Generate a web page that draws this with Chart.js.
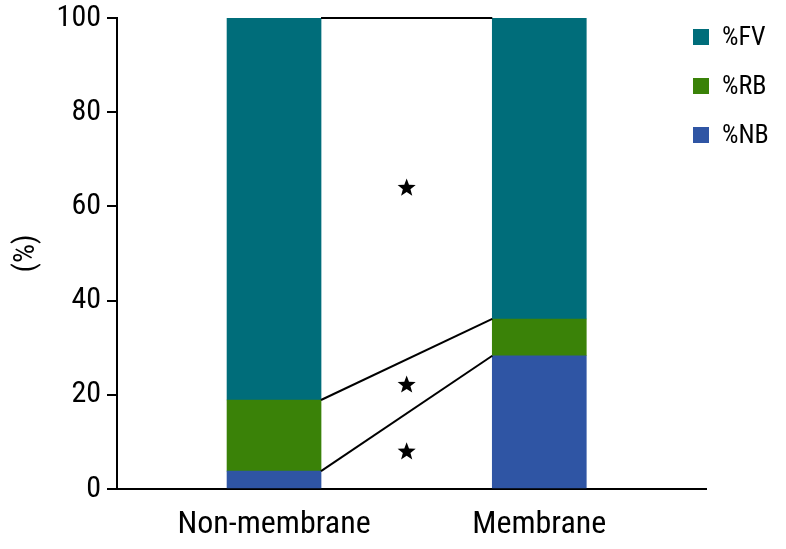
<!DOCTYPE html>
<html>
<head>
<meta charset="utf-8">
<script src="https://cdn.jsdelivr.net/npm/chart.js@4/dist/chart.umd.min.js"></script>
<style>
html,body{margin:0;padding:0;background:#fff;}
#wrap{width:786px;height:549px;position:relative;}
</style>
</head>
<body>
<div id="wrap"><canvas id="c" width="786" height="549"></canvas></div>
<script>
const categories = ['Non-membrane', 'Membrane'];
const seriesLabels = ['%NB', '%RB', '%FV'];
const nbValues = [3.8, 28.3];
const rbValues = [15.1, 7.8];
const fvValues = [81.1, 63.9];
const yTickValues = [0, 20, 40, 60, 80, 100];
const starMarks = [{x: 0.5, y: 63.9}, {x: 0.5, y: 22.1}, {x: 0.5, y: 7.9}];

const FONT = "'Roboto Condensed', 'DejaVu Sans Condensed', sans-serif";
const colors = ['#2f55a4', '#3a8208', '#006d7a'];

function pts(arr) { return arr.map((v, i) => ({x: i, y: v})); }

const connectorPlugin = {
  id: 'connectors',
  afterDatasetsDraw(chart) {
    const ctx = chart.ctx;
    ctx.save();
    ctx.strokeStyle = '#000';
    ctx.lineWidth = 2;
    chart.data.datasets.forEach((ds, di) => {
      const meta = chart.getDatasetMeta(di);
      const a = meta.data[0], b = meta.data[1];
      ctx.beginPath();
      ctx.moveTo(a.x + a.width / 2, a.y);
      ctx.lineTo(b.x - b.width / 2, b.y);
      ctx.stroke();
    });
    const xs = chart.scales.x, ys = chart.scales.y;
    ctx.fillStyle = '#000';
    starMarks.forEach(s => {
      const cx = xs.getPixelForValue(s.x), cy = ys.getPixelForValue(s.y);
      const R = 9.5, r = 4;
      ctx.beginPath();
      for (let k = 0; k < 10; k++) {
        const ang = -Math.PI / 2 + k * Math.PI / 5;
        const rad = k % 2 === 0 ? R : r;
        const px = cx + rad * Math.cos(ang), py = cy + rad * Math.sin(ang);
        if (k === 0) ctx.moveTo(px, py); else ctx.lineTo(px, py);
      }
      ctx.closePath();
      ctx.fill();
    });
    ctx.font = '26px ' + FONT;
    ctx.textBaseline = 'middle';
    ctx.textAlign = 'left';
    const order = [2, 1, 0];
    order.forEach((di, k) => {
      const yc = 37 + k * 49;
      ctx.fillStyle = colors[di];
      ctx.fillRect(693, yc - 8, 16, 16);
      ctx.fillStyle = '#000';
      ctx.fillText(seriesLabels[di], 722, yc + 1);
    });
    ctx.restore();
  }
};

new Chart(document.getElementById('c'), {
  type: 'bar',
  data: {
    datasets: [
      {label: seriesLabels[0], data: pts(nbValues), backgroundColor: colors[0]},
      {label: seriesLabels[1], data: pts(rbValues), backgroundColor: colors[1]},
      {label: seriesLabels[2], data: pts(fvValues), backgroundColor: colors[2]}
    ]
  },
  options: {
    responsive: false,
    animation: false,
    devicePixelRatio: 1,
    barThickness: 94,
    layout: {padding: {left: 0, top: 18, right: 80, bottom: 0}},
    plugins: {legend: {display: false}, tooltip: {enabled: false}},
    scales: {
      x: {
        type: 'linear',
        stacked: true,
        offset: false,
        min: -0.592,
        max: 1.6285,
        afterBuildTicks: s => { s.ticks = categories.map((c, i) => ({value: i})); },
        ticks: {
          callback: v => categories[v],
          color: '#000',
          font: {family: FONT, size: 32},
          padding: 17,
          maxRotation: 0,
          autoSkip: false
        },
        grid: {display: true, drawOnChartArea: false, drawTicks: false, offset: false},
        border: {display: true, color: '#000', width: 2},
        afterFit: s => { s.height = 60; }
      },
      y: {
        stacked: true,
        min: 0,
        max: 100,
        afterBuildTicks: s => { s.ticks = yTickValues.map(v => ({value: v})); },
        ticks: {
          color: '#000',
          font: {family: FONT, size: 30, lineHeight: 0.8},
          padding: 6
        },
        grid: {display: true, drawOnChartArea: false, drawTicks: true, tickLength: 10, color: '#000', lineWidth: 2},
        border: {display: true, color: '#000', width: 2},
        title: {display: true, text: '(%)', color: '#000', font: {family: FONT, size: 30}, padding: {top: 8, bottom: 0}},
        afterFit: s => { s.width = 117; }
      }
    }
  },
  plugins: [connectorPlugin]
});
</script>
</body>
</html>
